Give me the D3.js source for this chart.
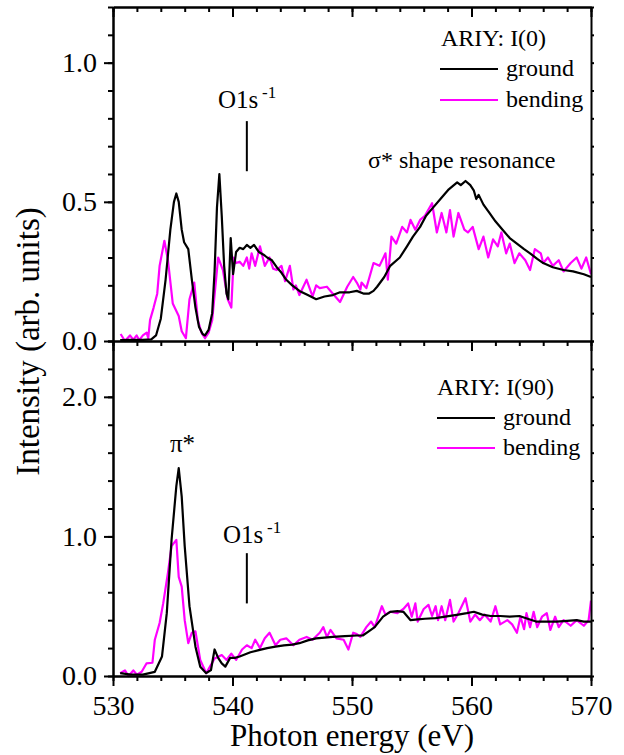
<!DOCTYPE html>
<html>
<head>
  <meta charset="UTF-8">
  <script src="https://cdn.jsdelivr.net/npm/d3@7"></script>
  <style>
    @font-face { font-family: "ChartSerif"; src: local("Liberation Serif"), local("LiberationSerif"), local("Liberation Serif Regular"), local("LiberationSerif-Regular"); }
  </style>
</head>
<body style="margin:0">
  <svg id="s" width="624" height="755" font-family="Liberation Serif"></svg>
  <script>
    // photon energy (eV), intensity (arb. units)
    const topGround = [[530.6,0.003],[531.5,0.004],[532.5,0.004],[533.2,0.006],[533.6,0.02],[534.0,0.08],[534.4,0.22],[534.8,0.40],[535.1,0.50],[535.3,0.53],[535.5,0.50],[535.75,0.40],[535.95,0.355],[536.3,0.33],[536.6,0.22],[536.9,0.12],[537.2,0.05],[537.5,0.025],[537.7,0.02],[538.0,0.04],[538.3,0.10],[538.5,0.25],[538.7,0.48],[538.9,0.60],[539.1,0.45],[539.3,0.27],[539.5,0.17],[539.65,0.15],[539.85,0.37],[540.05,0.24],[540.3,0.32],[540.6,0.335],[540.9,0.33],[541.2,0.345],[541.5,0.335],[541.8,0.345],[542.2,0.32],[542.6,0.31],[542.9,0.30],[543.3,0.29],[543.7,0.265],[544.1,0.245],[544.5,0.22],[545.0,0.20],[545.6,0.18],[546.3,0.165],[547.0,0.15],[547.7,0.16],[548.4,0.165],[549.0,0.175],[549.8,0.175],[550.4,0.18],[551.0,0.17],[551.4,0.17],[551.8,0.18],[552.1,0.195],[552.7,0.23],[553.2,0.27],[554.0,0.30],[554.6,0.34],[555.1,0.375],[555.7,0.41],[556.2,0.45],[556.8,0.48],[557.4,0.51],[558.1,0.545],[558.8,0.57],[559.1,0.56],[559.5,0.575],[559.9,0.56],[560.2,0.54],[560.4,0.51],[560.6,0.525],[561.0,0.49],[561.5,0.46],[562.0,0.43],[562.6,0.40],[563.2,0.37],[563.8,0.35],[564.4,0.33],[564.9,0.315],[565.5,0.295],[566.0,0.28],[566.8,0.265],[567.7,0.255],[568.5,0.25],[569.4,0.24],[570,0.23]];

    const topBending = [[530.64,0.025],[531.0,0.0],[531.42,0.02],[531.7,0.005],[531.98,0.02],[532.2,0.003],[532.5,0.02],[532.82,0.03],[532.95,0.01],[533.1,0.075],[533.4,0.12],[533.7,0.17],[533.9,0.27],[534.3,0.36],[534.6,0.29],[535.0,0.135],[535.5,0.09],[535.75,0.035],[536.1,0.01],[536.4,0.15],[536.8,0.21],[537.1,0.075],[537.4,0.03],[537.7,0.01],[538.0,0.03],[538.3,0.075],[538.8,0.30],[539.2,0.255],[539.6,0.15],[539.9,0.12],[540.1,0.30],[540.3,0.28],[540.6,0.285],[540.9,0.27],[541.2,0.30],[541.4,0.26],[541.6,0.315],[541.9,0.27],[542.3,0.34],[542.7,0.27],[543.1,0.30],[543.4,0.26],[543.7,0.255],[544.1,0.27],[544.4,0.215],[544.8,0.27],[545.1,0.185],[545.3,0.2],[545.6,0.165],[546.2,0.22],[546.7,0.16],[547.0,0.2],[547.3,0.19],[547.9,0.195],[548.4,0.17],[549.0,0.14],[549.6,0.195],[550.1,0.23],[550.4,0.21],[550.7,0.185],[550.8,0.21],[551.2,0.19],[551.8,0.28],[552.3,0.27],[552.8,0.315],[553.0,0.22],[553.3,0.375],[553.7,0.35],[554.2,0.41],[554.6,0.39],[554.9,0.435],[555.3,0.40],[555.7,0.435],[556.1,0.45],[556.7,0.495],[557.1,0.39],[557.5,0.46],[557.9,0.39],[558.2,0.47],[558.5,0.375],[558.9,0.46],[559.4,0.40],[559.7,0.39],[560.1,0.41],[560.6,0.33],[561.0,0.375],[561.4,0.30],[561.8,0.365],[562.2,0.34],[562.5,0.39],[562.9,0.315],[563.2,0.35],[563.6,0.28],[564.0,0.315],[564.5,0.29],[564.9,0.255],[565.3,0.33],[565.8,0.315],[566.0,0.28],[566.4,0.30],[566.8,0.27],[567.3,0.29],[567.7,0.25],[568.3,0.28],[568.8,0.30],[569.2,0.26],[569.6,0.30],[570,0.24]];

    const botGround = [[530.6,0.02],[531.5,0.01],[532.5,0.01],[533.5,0.03],[534.1,0.14],[534.5,0.45],[534.9,0.975],[535.3,1.36],[535.5,1.49],[535.75,1.285],[536.0,0.93],[536.4,0.50],[536.9,0.21],[537.3,0.067],[537.8,0.02],[538.2,0.043],[538.5,0.19],[538.8,0.13],[539.1,0.09],[539.4,0.067],[539.8,0.13],[540.2,0.13],[540.6,0.14],[541.5,0.17],[542.2,0.185],[542.9,0.20],[543.6,0.21],[544.3,0.22],[545.0,0.225],[545.6,0.235],[546.3,0.255],[547.0,0.27],[547.7,0.275],[548.4,0.28],[549.4,0.285],[550.4,0.29],[550.9,0.29],[551.4,0.32],[551.9,0.35],[552.6,0.425],[553.2,0.46],[553.8,0.465],[554.3,0.46],[554.6,0.43],[554.9,0.40],[555.5,0.405],[556.1,0.41],[557.0,0.415],[557.8,0.425],[558.9,0.44],[559.6,0.45],[560.2,0.46],[560.9,0.44],[561.6,0.43],[562.4,0.43],[563.2,0.425],[564.0,0.43],[564.7,0.41],[565.4,0.39],[566.2,0.39],[567.1,0.39],[568.0,0.395],[568.8,0.40],[569.4,0.39],[570,0.39]];

    const botBending = [[530.6,0.02],[531.0,0.04],[531.3,0.0],[531.7,0.04],[532.0,0.01],[532.4,0.03],[532.8,0.09],[533.3,0.095],[533.5,0.26],[533.9,0.38],[534.2,0.52],[534.6,0.74],[534.9,0.93],[535.3,0.975],[535.5,0.71],[535.75,0.64],[536.0,0.40],[536.3,0.235],[536.6,0.31],[536.9,0.32],[537.3,0.115],[537.8,0.02],[538.2,0.08],[538.5,0.125],[539.1,0.15],[539.5,0.115],[539.9,0.16],[540.3,0.115],[540.8,0.19],[541.2,0.22],[541.6,0.20],[541.9,0.26],[542.3,0.20],[542.7,0.27],[543.1,0.31],[543.6,0.22],[544.0,0.26],[544.5,0.27],[545.1,0.22],[545.6,0.26],[546.2,0.28],[546.7,0.26],[547.3,0.31],[547.6,0.35],[547.9,0.28],[548.2,0.33],[548.7,0.27],[549.3,0.26],[549.7,0.19],[550.1,0.31],[550.4,0.30],[550.7,0.28],[551.2,0.35],[551.6,0.39],[551.9,0.35],[552.2,0.425],[552.5,0.50],[552.8,0.44],[553.2,0.46],[553.8,0.45],[554.3,0.48],[554.7,0.52],[555.0,0.425],[555.3,0.52],[555.5,0.39],[556.0,0.48],[556.4,0.51],[556.7,0.43],[557.0,0.50],[557.2,0.40],[557.5,0.50],[557.8,0.40],[558.2,0.545],[558.5,0.39],[558.9,0.45],[559.5,0.557],[559.9,0.39],[560.3,0.44],[560.7,0.40],[561.1,0.44],[561.6,0.39],[562.0,0.50],[562.4,0.37],[563.0,0.40],[563.4,0.37],[563.8,0.31],[564.1,0.425],[564.4,0.335],[564.6,0.45],[564.9,0.35],[565.2,0.46],[565.5,0.35],[565.9,0.425],[566.3,0.45],[566.6,0.33],[567.0,0.425],[567.3,0.35],[567.7,0.40],[568.3,0.36],[568.8,0.40],[569.4,0.36],[569.8,0.40],[570,0.54]];

    const xTicks = [530, 540, 550, 560, 570];
    const topYTicks = [0, 0.5, 1.0];
    const botYTicks = [0, 1.0, 2.0];
    const o1sEdge = 541.2;

    const svg = d3.select('#s');
    const mL = 113, mR = 591, mT = 7, mM = 341, mB = 676;
    const FAM = 'Liberation Serif';

    const x = d3.scaleLinear().domain([530, 570]).range([mL, mR]);
    const yTop = d3.scaleLinear().domain([0, 1.2]).range([mM, mT]);
    const yBot = d3.scaleLinear().domain([0, 2.4]).range([mB, mM]);
    const xMinor = d3.range(530, 570.1, 2);

    // every label goes through here so the serif face is set before size
    function label(parent, str, size) {
      return parent.append('text')
        .style('font-family', `"${FAM}"`)
        .style('font-size', `${size}px`)
        .attr('font-family', FAM)
        .attr('fill', '#000')
        .text(str);
    }

    function styleAxis(g) {
      g.attr('font-family', FAM).attr('font-size', null);
      g.selectAll('path, line').attr('stroke', '#000').attr('stroke-width', 2);
      g.selectAll('text').each(function () {
        const t = d3.select(this);
        const s = t.text();
        t.style('font-family', `"${FAM}"`).style('font-size', '28px').attr('font-family', FAM).attr('fill', '#000');
        t.text(s);
      });
    }

    function xAxes(yPos, withLabels) {
      svg.append('g').attr('transform', `translate(0,${yPos})`)
        .call(d3.axisBottom(x).tickValues(xMinor).tickSize(5).tickFormat('').tickSizeOuter(0))
        .call(styleAxis);
      svg.append('g').attr('transform', `translate(0,${yPos})`)
        .call(d3.axisBottom(x).tickValues(xTicks).tickSize(10).tickPadding(9)
          .tickFormat(withLabels ? d3.format('d') : '').tickSizeOuter(0))
        .call(styleAxis);
    }

    function yAxes(y, ticks, minorStep) {
      const [d0, d1] = y.domain();
      const minor = d3.range(d0, d1 + 1e-6, minorStep);
      svg.append('g').attr('transform', `translate(${mL},0)`)
        .call(d3.axisLeft(y).tickValues(minor).tickSize(5).tickFormat('').tickSizeOuter(0))
        .call(styleAxis);
      svg.append('g').attr('transform', `translate(${mL},0)`)
        .call(d3.axisLeft(y).tickValues(ticks).tickSize(9).tickPadding(7)
          .tickFormat(d3.format('.1f')).tickSizeOuter(0))
        .call(styleAxis);
      svg.append('g').attr('transform', `translate(${mR},0)`)
        .call(d3.axisRight(y).tickValues(minor).tickSize(3).tickFormat('').tickSizeOuter(0))
        .call(styleAxis);
    }

    // curves
    function drawPanel(y, ground, bending) {
      const line = d3.line().x(d => x(d[0])).y(d => y(d[1]));
      svg.append('path').datum(bending)
        .attr('d', line).attr('fill', 'none')
        .attr('stroke', '#ff00ff').attr('stroke-width', 2.2).attr('stroke-linejoin', 'round');
      svg.append('path').datum(ground)
        .attr('d', line).attr('fill', 'none')
        .attr('stroke', '#000').attr('stroke-width', 2.2).attr('stroke-linejoin', 'round');
    }
    drawPanel(yTop, topGround, topBending);
    drawPanel(yBot, botGround, botBending);

    yAxes(yTop, topYTicks, 0.1);
    yAxes(yBot, botYTicks, 0.2);
    xAxes(mT, false);
    xAxes(mM, false);
    xAxes(mB, true);

    // O1s^-1 markers
    function o1s(y, v0, v1, tx, ty) {
      svg.append('line')
        .attr('x1', x(o1sEdge)).attr('x2', x(o1sEdge))
        .attr('y1', y(v0)).attr('y2', y(v1))
        .attr('stroke', '#000').attr('stroke-width', 2);
      label(svg, 'O1s', 25).attr('x', tx).attr('y', ty);
      label(svg, '-1', 17).attr('x', tx + 44).attr('y', ty - 10);
    }
    o1s(yTop, 0.79, 0.61, 218, 108);
    o1s(yBot, 0.88, 0.52, 223, 543);

    label(svg, 'σ* shape resonance', 24).attr('x', 368).attr('y', 168);
    label(svg, 'π*', 25).attr('x', 170).attr('y', 452);

    // legends
    function legend(title, tx, ty, lx, gy, by) {
      label(svg, title, 24).attr('x', tx).attr('y', ty);
      [['ground', '#000', gy], ['bending', '#ff00ff', by]].forEach(([name, c, yy]) => {
        svg.append('line').attr('x1', lx).attr('x2', lx + 58).attr('y1', yy).attr('y2', yy)
          .attr('stroke', c).attr('stroke-width', 2.2);
        label(svg, name, 24).attr('x', lx + 66).attr('y', yy + 7);
      });
    }
    legend('ARIY: I(0)', 441, 46, 440, 69, 100);
    legend('ARIY: I(90)', 437, 395, 437, 418, 448);

    // axis titles
    label(svg, 'Photon energy (eV)', 31)
      .attr('text-anchor', 'middle')
      .attr('transform', `translate(${(mL + mR) / 2},746)`);
    label(svg, 'Intensity (arb. units)', 33)
      .attr('text-anchor', 'middle')
      .attr('transform', `translate(39,${(mT + mB) / 2}) rotate(-90)`);
  </script>
</body>
</html>
